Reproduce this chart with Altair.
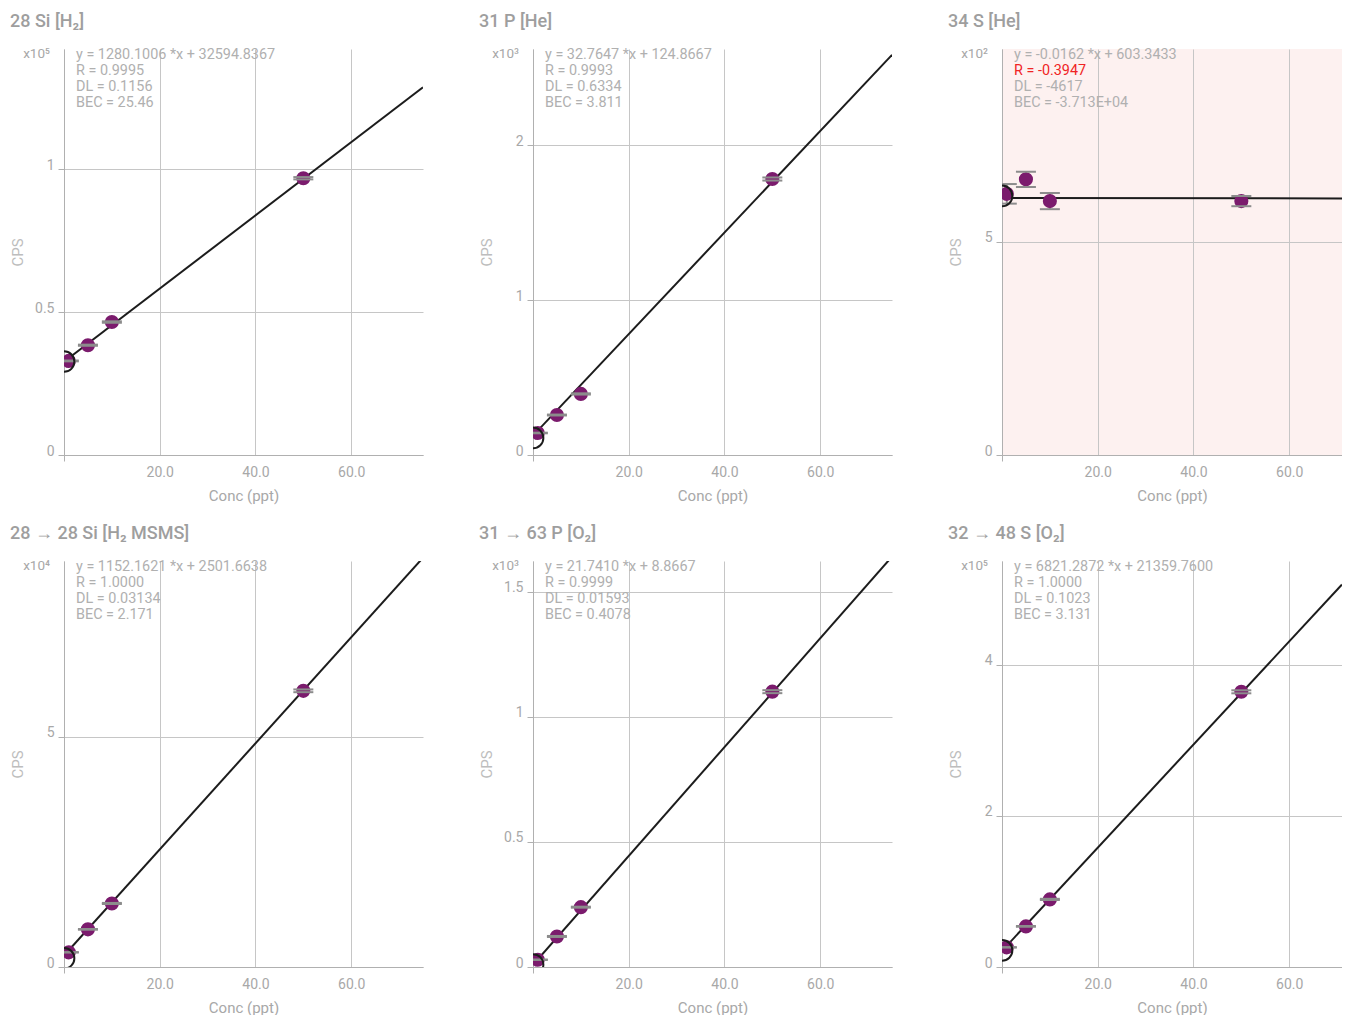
import altair as alt
import pandas as pd

# ---------------- data ----------------
concs = [1, 5, 10, 50]
blank_conc = 0

titles = ["28 Si [H₂]", "31 P [He]", "34 S [He]",
          "28 → 28 Si [H₂ MSMS]", "31 → 63 P [O₂]", "32 → 48 S [O₂]"]

cps_p1 = [32900, 38400, 46500, 96800]
cps_p2 = [142, 258, 394, 1781]
cps_p3 = [613, 647, 596, 596]
cps_p4 = [3190, 8180, 13800, 60000]
cps_p5 = [29, 122, 239, 1100]
cps_p6 = [26000, 53700, 89400, 364000]
cps_all = [cps_p1, cps_p2, cps_p3, cps_p4, cps_p5, cps_p6]

err_p1 = [150, 200, 250, 400]
err_p2 = [2, 3, 4, 10]
err_p3 = [23, 18, 19, 12]
err_p4 = [50, 80, 120, 300]
err_p5 = [1, 2, 2, 6]
err_p6 = [300, 500, 800, 2000]
err_all = [err_p1, err_p2, err_p3, err_p4, err_p5, err_p6]

blank_cps = [32700, 110, 608, 1900, 10, 22000]

slopes = [1280.1006, 32.7647, -0.0162, 1152.1621, 21.7410, 6821.2872]
intercepts = [32594.8367, 124.8667, 603.3433, 2501.6638, 8.8667, 21359.7600]

stats = [
    ["y = 1280.1006 *x + 32594.8367", "R = 0.9995", "DL = 0.1156", "BEC = 25.46"],
    ["y = 32.7647 *x + 124.8667", "R = 0.9993", "DL = 0.6334", "BEC = 3.811"],
    ["y = -0.0162 *x + 603.3433", "R = -0.3947", "DL = -4617", "BEC = -3.713E+04"],
    ["y = 1152.1621 *x + 2501.6638", "R = 1.0000", "DL = 0.03134", "BEC = 2.171"],
    ["y = 21.7410 *x + 8.8667", "R = 0.9999", "DL = 0.01593", "BEC = 0.4078"],
    ["y = 6821.2872 *x + 21359.7600", "R = 1.0000", "DL = 0.1023", "BEC = 3.131"],
]
bad_r = [False, False, True, False, False, False]

exponents = [5, 3, 2, 4, 3, 5]
exp_labels = ["x10⁵", "x10³", "x10²", "x10⁴", "x10³", "x10⁵"]
y_max = [142000, 2620, 953, 88200, 1622, 537000]
y_ticks = [[0, 50000, 100000], [0, 1000, 2000], [0, 500], [0, 50000],
           [0, 500, 1000, 1500], [0, 200000, 400000]]
x_ticks = [0, 20, 40, 60]

# ---------------- style ----------------
FONT = "Roboto"
GRAY_TXT = "#a8a8a8"
PURPLE = "#7b1b6d"
PLOT_H = 406
FULL_W = 359
LAST_W = 340


def panel(i):
    col = i % 3
    width = FULL_W if col < 2 else LAST_W
    xmax = 75 * width / FULL_W
    xs = alt.Scale(domain=[0, xmax], nice=False, zero=False)
    ys = alt.Scale(domain=[0, y_max[i]], nice=False, zero=False)
    div = 10 ** exponents[i]

    xaxis = alt.Axis(values=x_ticks, title="Conc (ppt)",
                     labelExpr="datum.value == 0 ? '' : format(datum.value, '.1f')",
                     tickColor={"condition": {"test": "datum.value == 0", "value": "#b0b0b0"},
                                "value": "rgba(0,0,0,0)"})
    yaxis = alt.Axis(values=y_ticks[i], title="CPS",
                     labelExpr=f"datum.value / {div}")

    line_df = pd.DataFrame({"x": [0, xmax],
                            "y": [intercepts[i], slopes[i] * xmax + intercepts[i]]})
    pts = pd.DataFrame({"x": concs, "y": cps_all[i],
                        "lo": [v - e for v, e in zip(cps_all[i], err_all[i])],
                        "hi": [v + e for v, e in zip(cps_all[i], err_all[i])]})
    blank = pd.DataFrame({"x": [blank_conc], "y": [blank_cps[i]]})

    line = alt.Chart(line_df).mark_line(color="#1c1c1c", strokeWidth=2, clip=True).encode(
        x=alt.X("x:Q", scale=xs, axis=xaxis),
        y=alt.Y("y:Q", scale=ys, axis=yaxis),
    )
    blank_pt = alt.Chart(blank).mark_point(shape="circle", filled=False, size=430,
                                           color="#1c1c1c", strokeWidth=2,
                                           opacity=1, clip=True).encode(
        x="x:Q", y="y:Q")
    err = alt.Chart(pts).mark_rule(color="#8c8c8c", strokeWidth=2, clip=True).encode(
        x="x:Q", y="lo:Q", y2="hi:Q")
    dots = alt.Chart(pts).mark_circle(size=200, color=PURPLE, opacity=1, clip=True).encode(
        x="x:Q", y="y:Q")
    cap_lo = alt.Chart(pts).mark_tick(orient="horizontal", size=20, thickness=2,
                                      color="#8c8c8c", opacity=1, clip=True).encode(
        x="x:Q", y="lo:Q")
    cap_hi = alt.Chart(pts).mark_tick(orient="horizontal", size=20, thickness=2,
                                      color="#8c8c8c", opacity=1, clip=True).encode(
        x="x:Q", y="hi:Q")

    texts = []
    for k, s in enumerate(stats[i]):
        colr = "#f02424" if (k == 1 and bad_r[i]) else "#b0b0b0"
        texts.append(
            alt.Chart(pd.DataFrame({"t": [s]})).mark_text(
                align="left", baseline="middle", font=FONT, fontSize=14.4, color=colr
            ).encode(x=alt.value(12), y=alt.value(6 + 16 * k), text="t:N")
        )
    exp_txt = alt.Chart(pd.DataFrame({"t": [exp_labels[i]]})).mark_text(
        align="right", baseline="middle", font=FONT, fontSize=13.5, color=GRAY_TXT
    ).encode(x=alt.value(-14), y=alt.value(5), text="t:N")

    layer = alt.layer(line, err, dots, cap_lo, cap_hi, blank_pt, exp_txt, *texts).properties(
        width=width, height=PLOT_H,
        title=alt.TitleParams(text=titles[i], anchor="start", frame="group", dx=-54,
                              fontSize=18, font=FONT, fontWeight=500, color="#9e9e9e",
                              baseline="alphabetic", offset=2),
    )
    if i == 2:
        layer = layer.properties(view=alt.ViewBackground(fill="#fdf1f0", strokeWidth=0))
    return layer


panels = [panel(i) for i in range(6)]

chart = alt.concat(*panels, columns=3, bounds="flush",
                   spacing={"row": 106, "column": 110}).properties(
    padding={"left": 2, "top": 5, "right": 0, "bottom": 0}
).configure_view(strokeWidth=0).configure_axis(
    labelFont=FONT, titleFont=FONT, labelColor=GRAY_TXT, titleColor=GRAY_TXT,
    labelFontSize=14, titleFontSize=15, titleFontWeight="normal",
    gridColor="#c6c6c6", gridWidth=1, domainColor="#b0b0b0", tickColor="#b0b0b0",
    tickSize=6, labelPadding=4,
).configure_axisX(
    titlePadding=9,
).configure_axisY(
    labelBaseline="alphabetic", minExtent=30, maxExtent=30, titlePadding=9,
    titleFontSize=15, titleColor="#bdbdbd",
).configure_text(font=FONT)

chart.save("out.html", embed_options={"renderer": "svg", "actions": False})
